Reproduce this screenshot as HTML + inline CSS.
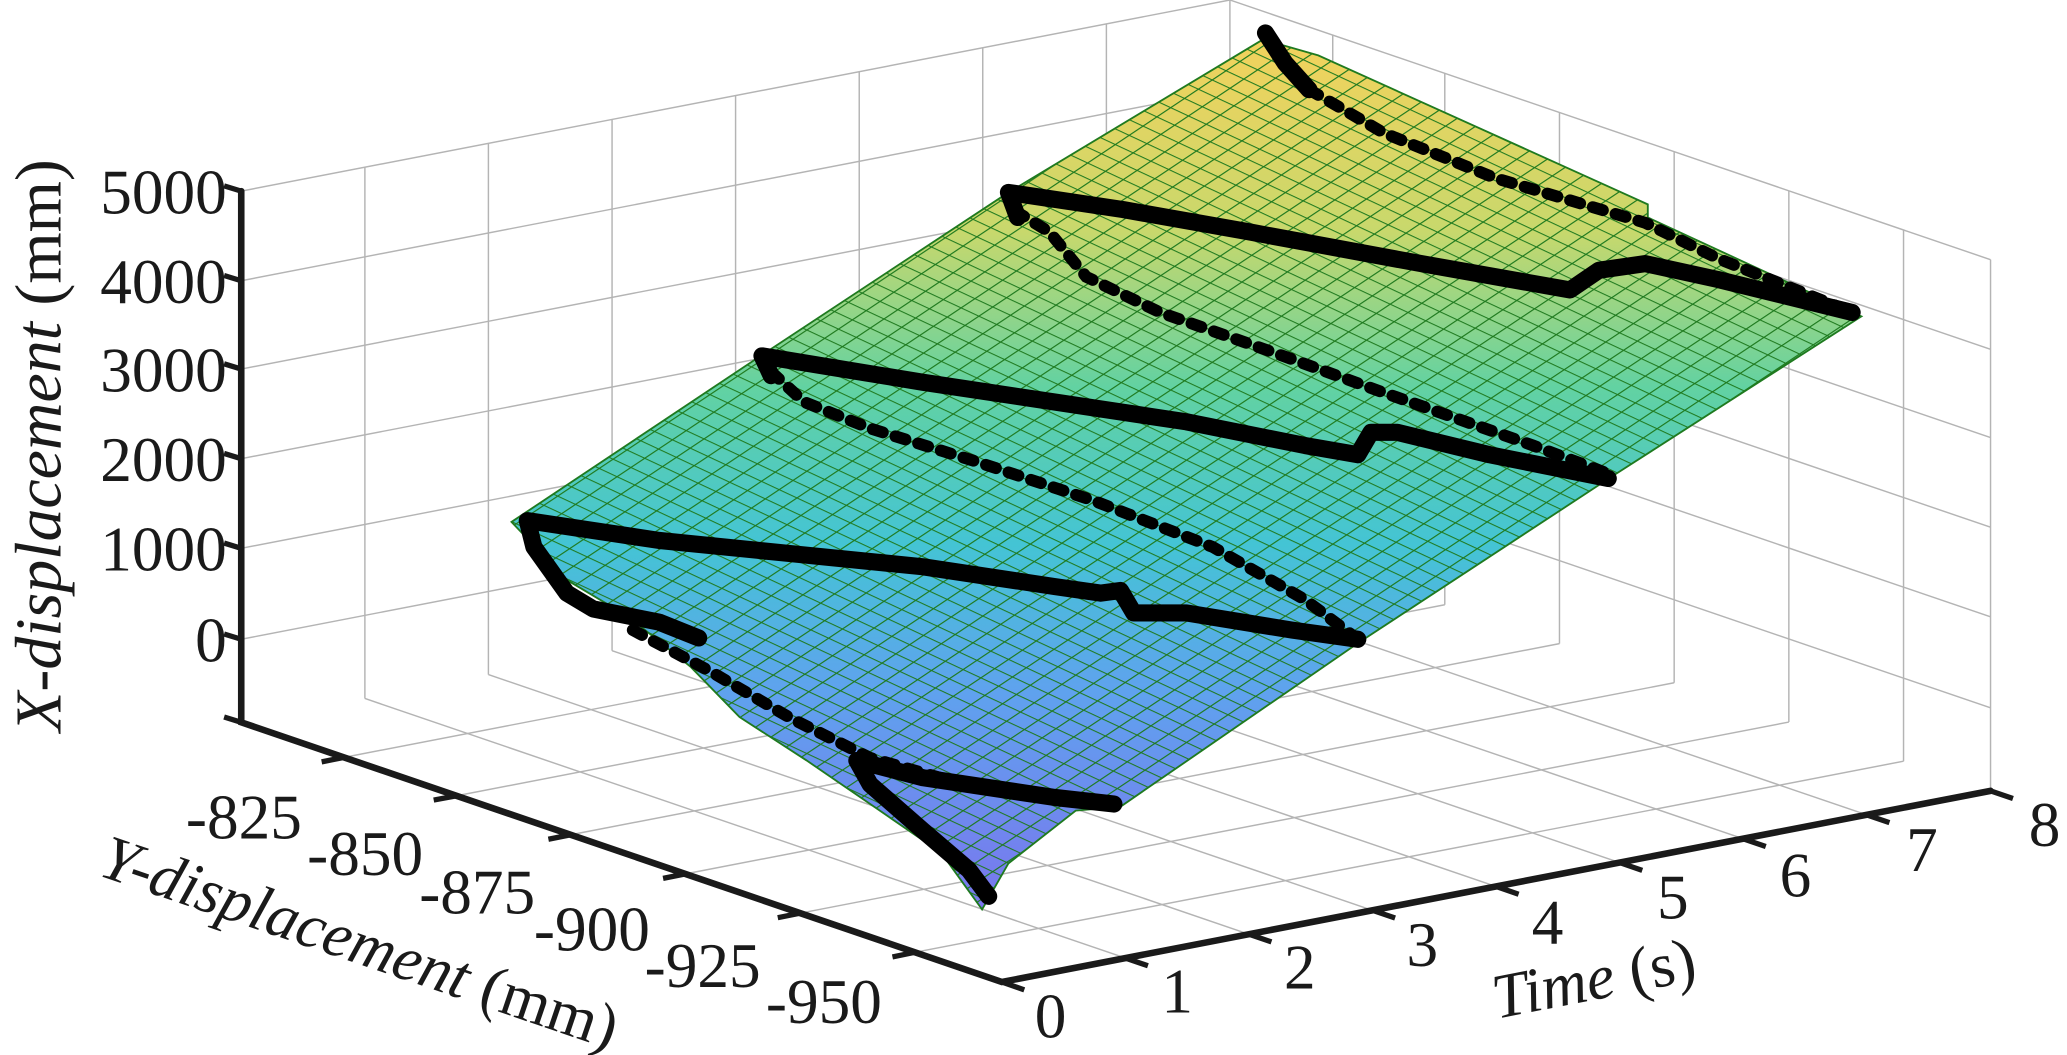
<!DOCTYPE html>
<html><head><meta charset="utf-8"><style>
html,body{margin:0;padding:0;background:#fff;}
svg{display:block;}
text{font-family:"Liberation Serif","Times New Roman",serif;fill:#1a1a1a;}
</style></head><body>
<svg width="2067" height="1055" viewBox="0 0 1568 800.4" preserveAspectRatio="none" xmlns="http://www.w3.org/2000/svg" font-family="Liberation Serif, Times New Roman, serif">
<defs>
<linearGradient id="g" gradientUnits="userSpaceOnUse" x1="0" y1="30" x2="0" y2="690">
<stop offset="0" stop-color="#f3d25c"/>
<stop offset="0.22" stop-color="#c8d86c"/>
<stop offset="0.4" stop-color="#62d2a2"/>
<stop offset="0.58" stop-color="#44c4d4"/>
<stop offset="0.75" stop-color="#5fa2ee"/>
<stop offset="1" stop-color="#7a76ee"/>
</linearGradient>
<pattern id="m" patternUnits="userSpaceOnUse" width="10" height="10" patternTransform="matrix(1.35,0.63,-1.05,0.7,0,0)">
<path d="M0 0H10M0 0V10" stroke="#1f7a1f" stroke-width="1.4" fill="none"/>
</pattern>
</defs>
<g stroke="#b4b4b4" stroke-width="1.1" fill="none">
<path d="M183 145L933 0M183 213L933 68M183 280L933 135M183 348L933 203M183 416L933 271M183 485L933 340"/>
<path d="M276.8 529.9V126.9M370.5 511.8V108.8M464.3 493.7V90.7M558 475.6V72.6M651.8 457.5V54.5M745.5 439.4V36.4M839.3 421.3V18.3M933 403V0"/>
<path d="M933 0L1510 197M933 68L1510 265M933 135L1510 332M933 203L1510 400M933 271L1510 468M933 340L1510 537"/>
<path d="M1011 429.6V26.6M1096 458.8V55.8M1183 488.3V85.3M1270 518V115M1357 547.8V144.8M1444 577.5V174.5M1510 600V197"/>
<path d="M276.8 529.9L853.8 726.9M370.5 511.8L947.5 708.8M464.3 493.7L1041.3 690.7M558 475.6L1135 672.6M651.8 457.5L1228.8 654.5M745.5 439.4L1322.5 636.4M839.3 421.3L1416.3 618.3"/>
<path d="M261 574.6L1011 429.6M346 603.8L1096 458.8M433 633.3L1183 488.3M520 663L1270 518M607 692.8L1357 547.8M694 722.5L1444 577.5"/>
</g>
<path d="M958 30L1000 42L1250 155L1250 165L1412 240L1222 362L1030 488L850 612L816 615L765 655L745 690L714 647L663 612L612 577L561 544L524 506L477 468L430 440L388 396L580 268L765 146Z" fill="url(#g)"/>
<path d="M958 30L1000 42L1250 155L1250 165L1412 240L1222 362L1030 488L850 612L816 615L765 655L745 690L714 647L663 612L612 577L561 544L524 506L477 468L430 440L388 396L580 268L765 146Z" fill="url(#m)" stroke="#1f7a1f" stroke-width="1.4"/>
<g stroke="#000" stroke-width="9" fill="none" stroke-dasharray="8 10" stroke-linecap="round">
<path d="M993 68L1050 101L1134 135L1248 169L1303 196L1405 237"/>
<path d="M770 160L796 176L824 210L880 237L965 267L1050 298L1163 338L1219 359"/>
<path d="M585 282L610 305L660 325L740 350L830 380L920 415L990 455L1030 485"/>
<path d="M480 478L540 510L600 545L660 575L720 592L800 605L845 610"/>
</g>
<g stroke="#000" stroke-width="13" fill="none" stroke-linecap="round" stroke-linejoin="round">
<path d="M960 25L975 48L993 68"/>
<path d="M1405 237L1303 212L1248 200L1213 205L1191 220L1078 200L948 176L852 159L765 146L772 165"/>
<path d="M1220 363L1130 345L1060 328L1040 328L1030 345L990 338L900 320L800 305L700 290L578 270L585 285"/>
<path d="M1030 485L980 478L900 465L860 465L850 448L835 450L800 445L700 430L600 420L500 410L400 395L405 415L430 450L450 462L500 472L530 484"/>
<path d="M845 610L800 605L700 590L650 577L660 595L700 630L735 660L750 680"/>
</g>
<g stroke="#1a1a1a" stroke-width="5" fill="none" stroke-linecap="round">
<path d="M183 145V548L760 745L1510 600"/>
</g>
<g stroke="#1a1a1a" stroke-width="4" fill="none">
<path d="M170 141L183 145M170 209L183 213M170 276L183 280M170 344L183 348M170 412L183 416M170 481L183 485M170 544L183 548"/>
<path d="M261 574.6L244 578M346 603.8L329 607M433 633.3L416 636.7M520 663L503 666.4M607 692.8L590 696.2M694 722.5L677 726"/>
<path d="M760 745L777 751M853.8 726.9L870.8 732.7M947.5 708.8L964.5 714.6M1041.3 690.7L1058.3 696.5M1135 672.6L1152 678.4M1228.8 654.5L1245.8 660.3M1322.5 636.4L1339.5 642.2M1416.3 618.3L1433.3 624.1M1510 600L1527 605.8"/>
</g>
<g font-size="48" text-anchor="end">
<text x="172" y="162">5000</text>
<text x="172" y="230">4000</text>
<text x="172" y="297">3000</text>
<text x="172" y="365">2000</text>
<text x="172" y="433">1000</text>
<text x="172" y="502">0</text>
</g>
<g font-size="48" text-anchor="middle">
<text x="185" y="636">-825</text>
<text x="277" y="664">-850</text>
<text x="362" y="693">-875</text>
<text x="449" y="721">-900</text>
<text x="533" y="749">-925</text>
<text x="625" y="776">-950</text>
</g>
<g font-size="48" text-anchor="middle">
<text x="797" y="787">0</text>
<text x="893" y="768">1</text>
<text x="986" y="750">2</text>
<text x="1079" y="733">3</text>
<text x="1174" y="716">4</text>
<text x="1269" y="697">5</text>
<text x="1362" y="680">6</text>
<text x="1458" y="661">7</text>
<text x="1551" y="642">8</text>
</g>
<text font-size="50" text-anchor="middle" transform="translate(46,338) rotate(-90)"><tspan font-style="italic">X-displacement</tspan> (mm)</text>
<text font-size="48" text-anchor="middle" transform="translate(268,730) rotate(18.8)"><tspan font-style="italic">Y-displacement</tspan> (mm)</text>
<text font-size="48" text-anchor="middle" transform="translate(1212,758) rotate(-11)"><tspan font-style="italic">Time</tspan> (s)</text>
</svg>
</body></html>
